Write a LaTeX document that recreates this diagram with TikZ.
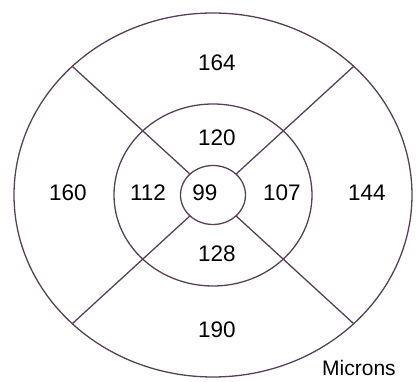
\documentclass[tikz,border=0pt]{standalone}
\usepackage{fontspec}
\setmainfont{Liberation Sans}
\definecolor{ringline}{RGB}{88,64,88}

\begin{document}
\begin{tikzpicture}[x=1pt,y=1pt,
    ring/.style={draw=ringline,line width=1.3pt},
    val/.style={font=\fontsize{22.5}{25}\selectfont,inner sep=0pt}]
  \useasboundingbox (-213,-187) rectangle (203,195);
  \coordinate (C) at (0,0);

  % Three rings of the grid.
  \draw[ring] (C) ellipse[x radius=199pt,y radius=182pt];
  \draw[ring] (C) ellipse[x radius=99pt,y radius=91pt];
  \draw[ring] (C) ellipse[x radius=32.5pt,y radius=29.5pt];

  % Diagonal dividers between inner and outer ring.
  \foreach \a in {45,135,225,315} {
    \coordinate (in\a) at (\a:32.5 and 29.5);
    \coordinate (out\a) at (\a:199 and 182);
    \draw[ring] (in\a) -- (out\a);
  }

  % Thickness values.
  \node[val] (sup2) at (4,132) {164};
  \node[val] (sup1) at (4,57) {120};
  \node[val] (tem2) at (-145,2) {160};
  \node[val] (tem1) at (-65,2) {112};
  \node[val] (fov) at (-8,2) {99};
  \node[val] (nas1) at (69,2) {107};
  \node[val] (nas2) at (154,2) {144};
  \node[val] (inf1) at (4,-59) {128};
  \node[val] (inf2) at (4,-135) {190};
  \node[font=\fontsize{21}{23}\selectfont,inner sep=0pt] (unit) at (146,-173) {Microns};
\end{tikzpicture}
\end{document}
